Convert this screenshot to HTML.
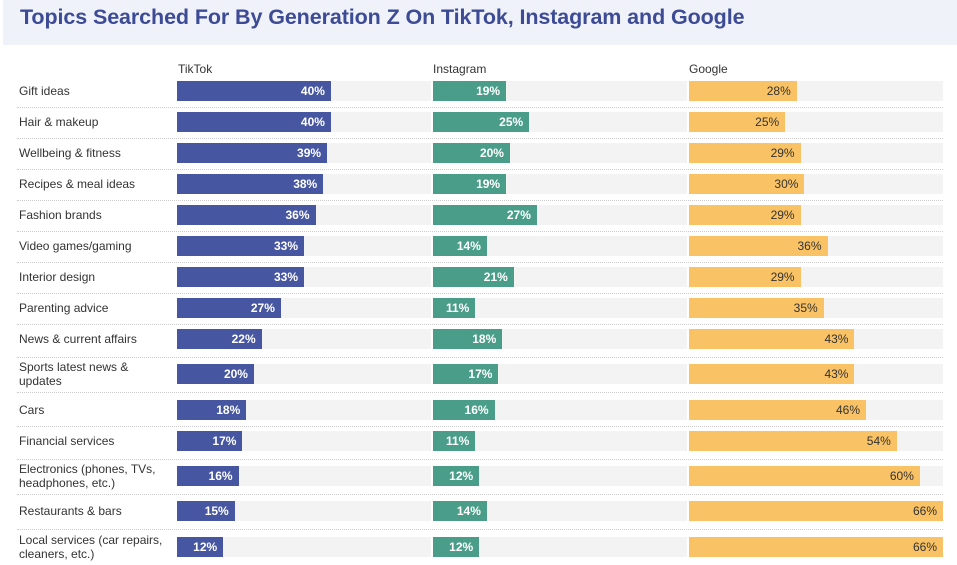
<!DOCTYPE html>
<html><head><meta charset="utf-8"><style>
body{margin:0;width:957px;height:565px;background:#fff;font-family:"Liberation Sans",sans-serif;overflow:hidden;position:relative}
#title-band{position:absolute;left:3px;top:0;width:954px;height:45px;background:#eff2f8}
#title{position:absolute;left:17px;top:5px;font-size:21.5px;font-weight:bold;color:#3d4b96;letter-spacing:-0.1px}
.lab{position:absolute;left:19px;font-size:12px;color:#333;line-height:14px;white-space:nowrap}
.hdr{position:absolute;top:62px;font-size:12px;color:#333}
.track{position:absolute;height:20px;background:#f3f3f3;width:254px}
.bar{position:absolute;height:20px;left:0;top:0}
.val{position:absolute;right:6px;top:3px;font-size:12px;font-weight:bold;color:#fff}
.sep{position:absolute;left:17px;width:926px;border-top:1px dotted #ccc}
</style></head><body>
<div id="title-band"><div id="title">Topics Searched For By Generation Z On TikTok, Instagram and Google</div></div>
<div class="hdr" style="left:178px">TikTok</div>
<div class="hdr" style="left:433px">Instagram</div>
<div class="hdr" style="left:689px">Google</div>
<div id="chart"></div>
<script>
const categories=["Gift ideas","Hair & makeup","Wellbeing & fitness","Recipes & meal ideas","Fashion brands","Video games/gaming","Interior design","Parenting advice","News & current affairs","Sports latest news &\nupdates","Cars","Financial services","Electronics (phones, TVs,\nheadphones, etc.)","Restaurants & bars","Local services (car repairs,\ncleaners, etc.)"];
const tiktok=[40,40,39,38,36,33,33,27,22,20,18,17,16,15,12];
const instagram=[19,25,20,19,27,14,21,11,18,17,16,11,12,14,12];
const google=[28,25,29,30,29,36,29,35,43,43,46,54,60,66,66];
const maxVal=66, trackW=254;
const rowCenters=[91,122,153,184,215,246,277,308,339,374,410,441,476,511,547];
const series=[{name:"tiktok",vals:tiktok,x:177,color:"#4656a0",txt:"#fff",w:"bold"},{name:"instagram",vals:instagram,x:433,color:"#4a9e89",txt:"#fff",w:"bold"},{name:"google",vals:google,x:689,color:"#f9c264",txt:"#333",w:"normal"}];
function xScale(v){return v/maxVal*trackW;}
const root=document.getElementById('chart');
categories.forEach((c,i)=>{
  const cy=rowCenters[i];
  const lab=document.createElement('div');lab.className='lab';
  
  
  const parts=c.split('\n');
  parts.forEach((p,k)=>{if(k)lab.appendChild(document.createElement('br'));lab.appendChild(document.createTextNode(p));});
  lab.style.top=(cy-(parts.length>1?14:7))+'px';
  root.appendChild(lab);
  if(i<categories.length-1){
    const s=document.createElement('div');s.className='sep';
    
    
    s.style.top=Math.round((cy+rowCenters[i+1])/2)+'px';root.appendChild(s);
  }
  series.forEach(sr=>{
    const t=document.createElement('div');t.className='track';
    
    
    t.style.left=sr.x+'px';t.style.top=(cy-10)+'px';
    const b=document.createElement('div');b.className='bar';
    
    
    b.style.width=xScale(sr.vals[i])+'px';b.style.background=sr.color;
    const v=document.createElement('span');v.className='val';
    
    
    v.style.color=sr.txt;v.style.fontWeight=sr.w;v.textContent=sr.vals[i]+'%';
    b.appendChild(v);t.appendChild(b);root.appendChild(t);
  });
});
</script>
</body></html>
